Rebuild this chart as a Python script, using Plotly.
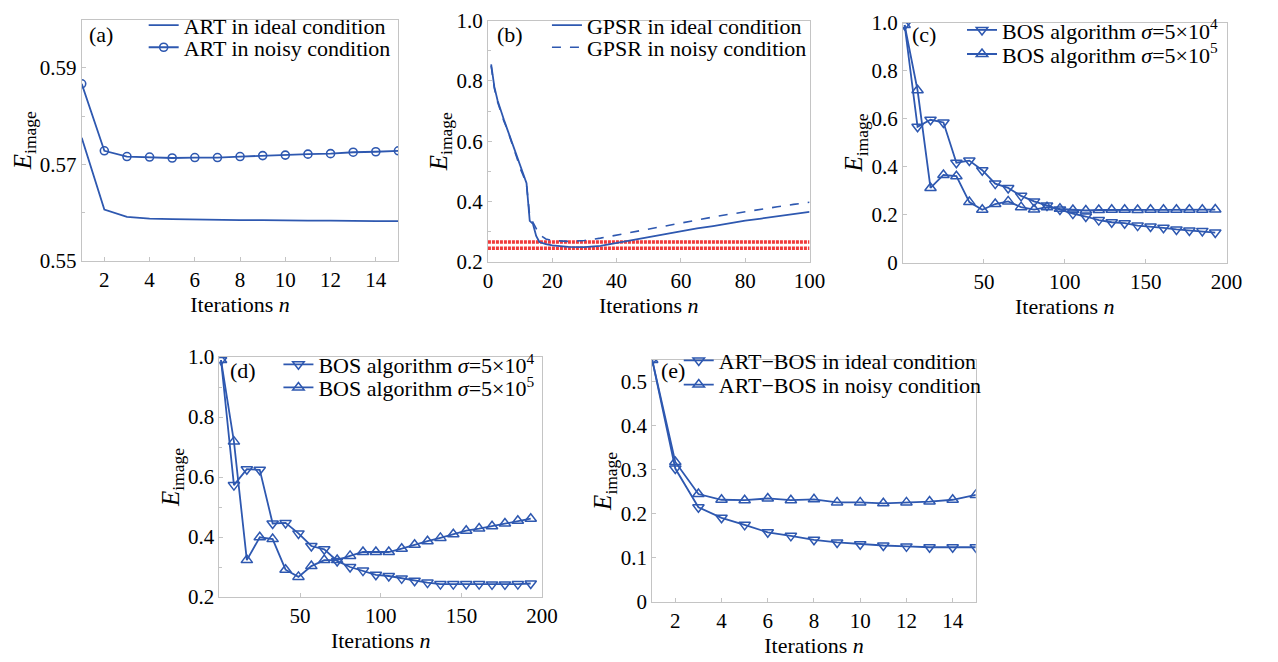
import plotly.graph_objects as go

# ---------------- dados ----------------
# (a) ART
art_n = list(range(1, 16))
art_ideal = [0.5755, 0.5606, 0.5591, 0.5587, 0.5586, 0.5585, 0.5585, 0.5584,
             0.5584, 0.5583, 0.5583, 0.5583, 0.5582, 0.5582, 0.5582]
art_noisy = [0.5867, 0.5728, 0.5716, 0.5715, 0.5713, 0.5714, 0.5714, 0.5716,
             0.5718, 0.5719, 0.5721, 0.5722, 0.5725, 0.5726, 0.5728]

# (b) GPSR
gpsr_n = [1, 2, 3, 4, 5, 6, 7, 8, 9, 10, 11, 12, 13, 14, 15, 16, 18, 20,
          25, 30, 35, 40, 45, 50, 55, 60, 65, 70, 75, 80, 85, 90, 95, 100]
gpsr_ideal = [0.855, 0.78, 0.735, 0.70, 0.67, 0.64, 0.61, 0.58, 0.55, 0.515, 0.49, 0.46,
              0.335, 0.325, 0.285, 0.265, 0.258, 0.254, 0.249, 0.248, 0.252, 0.262,
              0.270, 0.280, 0.290, 0.300, 0.310, 0.318, 0.328, 0.336, 0.343, 0.350,
              0.357, 0.365]
gpsr_noisy = [0.85, 0.775, 0.73, 0.695, 0.665, 0.64, 0.605, 0.575, 0.545, 0.51, 0.485, 0.455,
              0.35, 0.33, 0.31, 0.29, 0.275, 0.27, 0.267, 0.27, 0.278, 0.288, 0.298,
              0.31, 0.32, 0.33, 0.34, 0.348, 0.357, 0.366, 0.374, 0.382, 0.39, 0.397]
red_levels = [0.265, 0.244]

# (c) BOS
bos_n = list(range(1, 194, 8))
bos_c_s4 = [0.99, 0.566, 0.595, 0.584, 0.416, 0.425, 0.385, 0.329, 0.311, 0.278,
            0.255, 0.238, 0.221, 0.204, 0.192, 0.177, 0.168, 0.164, 0.154, 0.150,
            0.145, 0.138, 0.134, 0.132, 0.125]
bos_c_s5 = [0.99, 0.718, 0.311, 0.365, 0.360, 0.252, 0.220, 0.244, 0.255, 0.231,
            0.221, 0.231, 0.224, 0.219, 0.217, 0.219, 0.220, 0.220, 0.219, 0.220,
            0.220, 0.220, 0.220, 0.220, 0.221]

# (d) BOS
bos_d_s4 = [0.99, 0.573, 0.626, 0.624, 0.445, 0.447, 0.412, 0.370, 0.359, 0.320,
            0.300, 0.288, 0.274, 0.270, 0.262, 0.254, 0.248, 0.243, 0.243, 0.243,
            0.243, 0.242, 0.242, 0.243, 0.245]
bos_d_s5 = [0.99, 0.718, 0.323, 0.399, 0.393, 0.291, 0.267, 0.303, 0.323, 0.323,
            0.337, 0.350, 0.350, 0.350, 0.361, 0.374, 0.386, 0.397, 0.409, 0.421,
            0.428, 0.436, 0.445, 0.454, 0.461]

# (e) ART-BOS
artbos_n = list(range(1, 16))
artbos_ideal = [0.55, 0.303, 0.215, 0.191, 0.175, 0.158, 0.150, 0.141, 0.135,
                0.131, 0.128, 0.126, 0.124, 0.124, 0.124]
artbos_noisy = [0.55, 0.318, 0.245, 0.232, 0.231, 0.235, 0.231, 0.233, 0.226,
                0.226, 0.224, 0.226, 0.228, 0.232, 0.243]

# ---------------- estilo ----------------
W, H = 1278, 662
FONT = "Liberation Serif"
AZUL = "#2e58b0"
CINZA = "#c4c4c4"

def px_x(a, b):
    return [a / W, b / W]

def px_y(top, bottom):
    return [1 - bottom / H, 1 - top / H]

def eixo_x(dom, rng, vals, anchor):
    return dict(domain=dom, range=rng, anchor=anchor, tickvals=vals,
                showline=True, mirror=True, linecolor=CINZA, linewidth=1,
                ticks="inside", ticklen=4, tickcolor=CINZA, showgrid=False, zeroline=False,
                tickfont=dict(family=FONT, size=21, color="black"),
                title=dict(text="Iterations <i>n</i>", standoff=0,
                           font=dict(family=FONT, size=22, color="black")))

def eixo_y(dom, rng, vals, texts, anchor, minor=None):
    d = dict(domain=dom, range=rng, anchor=anchor, tickvals=vals, ticktext=texts,
             showline=True, mirror=True, linecolor=CINZA, linewidth=1,
             ticks="inside", ticklen=4, tickcolor=CINZA, showgrid=False, zeroline=False,
             tickfont=dict(family=FONT, size=21, color="black"),
             title=dict(text="<i>E</i><sub>image</sub>", standoff=0,
                        font=dict(family=FONT, size=25, color="black")))
    if minor:
        d["minor"] = dict(tickvals=minor, ticks="inside", ticklen=3, tickcolor=CINZA)
    return d

def legenda(x, centro):
    # uma legenda por item, para controlar o espaçamento entre linhas
    return dict(x=x / W, y=1 - (centro - 35) / H, xanchor="left", yanchor="top",
                bgcolor="rgba(0,0,0,0)", borderwidth=0, itemwidth=30,
                tracegroupgap=0, font=dict(family=FONT, size=22, color="black"))

fig = go.Figure()
linha = dict(color=AZUL, width=1.8)

# (a)
fig.add_trace(go.Scatter(x=art_n, y=art_ideal, mode="lines", line=linha,
                         name="ART in ideal condition", xaxis="x", yaxis="y", legend="legend"))
fig.add_trace(go.Scatter(x=art_n, y=art_noisy, mode="lines+markers", line=linha,
                         marker=dict(symbol="circle-open", size=8, color=AZUL, line=dict(width=1.6)),
                         name="ART in noisy condition", xaxis="x", yaxis="y", legend="legend2"))

# (b)
for lv in red_levels:
    fig.add_trace(go.Scatter(x=[0, 100], y=[lv, lv], mode="lines",
                             line=dict(color="#f03a3a", width=3.5, dash="3px,1px"),
                             showlegend=False, xaxis="x2", yaxis="y2"))
fig.add_trace(go.Scatter(x=gpsr_n, y=gpsr_ideal, mode="lines", line=linha,
                         name="GPSR in ideal condition", xaxis="x2", yaxis="y2", legend="legend3"))
fig.add_trace(go.Scatter(x=gpsr_n, y=gpsr_noisy, mode="lines", line=dict(color=AZUL, width=1.6, dash="dash"),
                         name="GPSR in noisy condition", xaxis="x2", yaxis="y2", legend="legend4"))

# (c), (d)
mk_down = dict(symbol="triangle-down-open", size=10, color=AZUL, line=dict(width=1.5))
mk_up = dict(symbol="triangle-up-open", size=10, color=AZUL, line=dict(width=1.5))
s4 = "BOS algorithm <i>σ</i>=5×10<sup>4</sup>"
s5 = "BOS algorithm <i>σ</i>=5×10<sup>5</sup>"
fig.add_trace(go.Scatter(x=bos_n, y=bos_c_s4, mode="lines+markers", line=linha, marker=mk_down,
                         name=s4, xaxis="x3", yaxis="y3", legend="legend5"))
fig.add_trace(go.Scatter(x=bos_n, y=bos_c_s5, mode="lines+markers", line=linha, marker=mk_up,
                         name=s5, xaxis="x3", yaxis="y3", legend="legend6"))
fig.add_trace(go.Scatter(x=bos_n, y=bos_d_s4, mode="lines+markers", line=linha, marker=mk_down,
                         name=s4, xaxis="x4", yaxis="y4", legend="legend7"))
fig.add_trace(go.Scatter(x=bos_n, y=bos_d_s5, mode="lines+markers", line=linha, marker=mk_up,
                         name=s5, xaxis="x4", yaxis="y4", legend="legend8"))

# (e)
fig.add_trace(go.Scatter(x=artbos_n, y=artbos_ideal, mode="lines+markers", line=linha, marker=mk_down,
                         name="ART−BOS in ideal condition", xaxis="x5", yaxis="y5", legend="legend9"))
fig.add_trace(go.Scatter(x=artbos_n, y=artbos_noisy, mode="lines+markers", line=linha, marker=mk_up,
                         name="ART−BOS in noisy condition", xaxis="x5", yaxis="y5", legend="legend10"))

fig.update_layout(
    width=W, height=H, margin=dict(l=0, r=0, t=0, b=0),
    paper_bgcolor="white", plot_bgcolor="white", hovermode=False,
    xaxis=eixo_x(px_x(78, 400), [1, 15], [2, 4, 6, 8, 10, 12, 14], "y"),
    yaxis=eixo_y(px_y(8, 258), [0.55, 0.60], [0.55, 0.57, 0.59], ["0.55", "0.57", "0.59"], "x",
                 minor=[0.56, 0.58]),
    xaxis2=eixo_x(px_x(491, 818), [0, 100], [0, 20, 40, 60, 80, 100], "y2"),
    yaxis2=eixo_y(px_y(9, 259), [0.2, 1.0], [0.2, 0.4, 0.6, 0.8, 1.0],
                  ["0.2", "0.4", "0.6", "0.8", "1.0"], "x2", minor=[0.3, 0.5, 0.7, 0.9]),
    xaxis3=eixo_x(px_x(913, 1242), [0, 200], [50, 100, 150, 200], "y3"),
    yaxis3=eixo_y(px_y(11, 260), [0, 1.0], [0, 0.2, 0.4, 0.6, 0.8, 1.0],
                  ["0", "0.2", "0.4", "0.6", "0.8", "1.0"], "x3"),
    xaxis4=eixo_x(px_x(218, 546), [0, 200], [50, 100, 150, 200], "y4"),
    yaxis4=eixo_y(px_y(358, 607), [0.2, 1.0], [0.2, 0.4, 0.6, 0.8, 1.0],
                  ["0.2", "0.4", "0.6", "0.8", "1.0"], "x4", minor=[0.3, 0.5, 0.7, 0.9]),
    xaxis5=eixo_x(px_x(658, 987), [1, 15], [2, 4, 6, 8, 10, 12, 14], "y5"),
    yaxis5=eixo_y(px_y(361, 612), [0, 0.55], [0, 0.1, 0.2, 0.3, 0.4, 0.5],
                  ["0", "0.1", "0.2", "0.3", "0.4", "0.5"], "x5"),
    legend=legenda(141, 27), legend2=legenda(141, 50),
    legend3=legenda(551, 27), legend4=legenda(551, 50),
    legend5=legenda(973, 32), legend6=legenda(973, 57),
    legend7=legenda(278, 379), legend8=legenda(278, 403),
    legend9=legenda(685, 375), legend10=legenda(685, 400),
)

# rótulos dos painéis
for txt, x, y in [("(a)", 83, 23), ("(b)", 498, 23), ("(c)", 920, 23), ("(d)", 227, 372), ("(e)", 665, 372)]:
    fig.add_annotation(text=txt, x=x / W, y=1 - y / H, xref="paper", yref="paper",
                       xanchor="left", yanchor="middle", showarrow=False,
                       font=dict(family=FONT, size=22, color="black"))

# tira a margem padrão do <body>, senão tudo desloca 8 px
fig.write_html("out.html", config={"displayModeBar": False},
               post_script="document.body.style.margin='0';")
